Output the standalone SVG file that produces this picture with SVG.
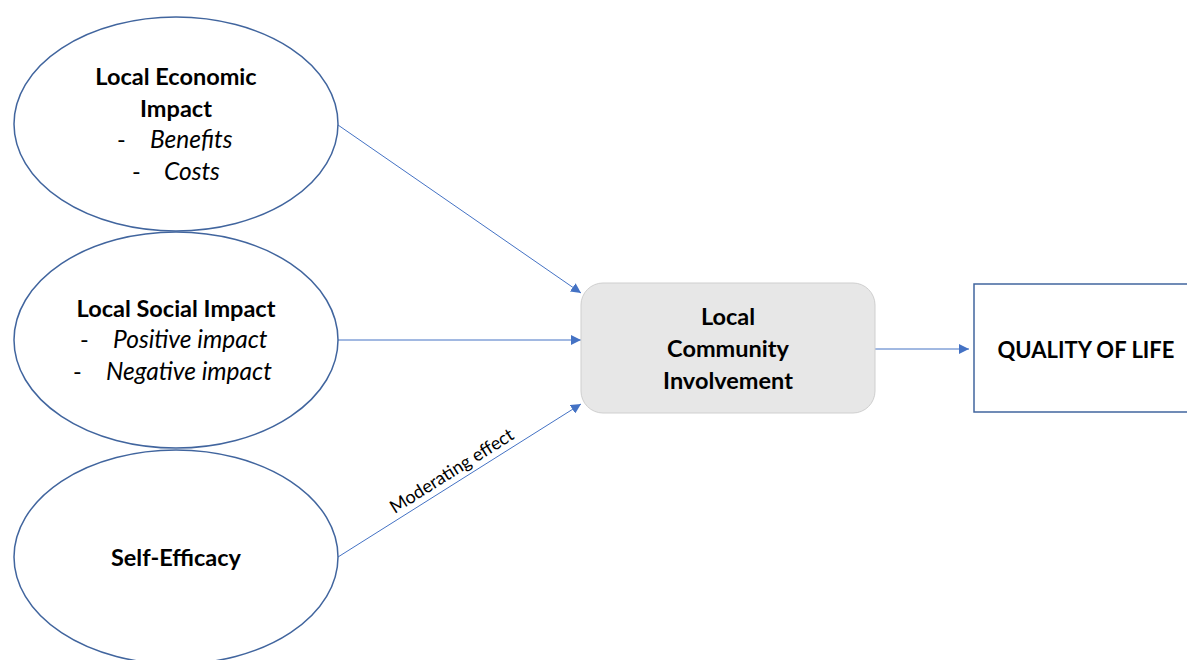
<svg xmlns="http://www.w3.org/2000/svg" width="1187" height="660" viewBox="0 0 1187 660">
<defs>
<style>
.ell{fill:#fff;stroke:#41659e;stroke-width:1.5}
.t{font-family:Lato,"Open Sans","Liberation Sans",sans-serif;font-size:23.5px;fill:#000}
.b{font-weight:bold}
.i{font-style:italic;font-size:24.5px}
.c{stroke:#4472c4;stroke-width:1;fill:none}
</style>
<marker id="ah" viewBox="0 0 10 10" refX="10" refY="5" markerWidth="10" markerHeight="10" markerUnits="userSpaceOnUse" orient="auto">
<path d="M0,0 L10,5 L0,10 z" fill="#4472c4"/>
</marker>
</defs>
<rect width="1187" height="660" fill="#fff"/>
<g id="connectors">
<line class="c" x1="338" y1="125" x2="581" y2="293" marker-end="url(#ah)"/>
<line class="c" x1="338" y1="340" x2="581" y2="340" marker-end="url(#ah)"/>
<line class="c" x1="338" y1="557" x2="581" y2="404" marker-end="url(#ah)"/>
<line class="c" x1="875" y1="349" x2="969" y2="349" marker-end="url(#ah)"/>
<text class="t" style="font-size:18px" transform="translate(455,476) rotate(-32.2)" text-anchor="middle">Moderating effect</text>
</g>
<g id="economic">
<ellipse class="ell" cx="176" cy="124" rx="162" ry="107"/>
<text class="t b" x="176" y="85" text-anchor="middle">Local Economic</text>
<text class="t b" x="176" y="117" text-anchor="middle">Impact</text>
<text class="t" x="117" y="148">-</text>
<text class="t i" x="150" y="148">Benefits</text>
<text class="t" x="132" y="180">-</text>
<text class="t i" x="164" y="180">Costs</text>
</g>
<g id="social">
<ellipse class="ell" cx="176" cy="340" rx="162" ry="108"/>
<text class="t b" x="176" y="317" text-anchor="middle">Local Social Impact</text>
<text class="t" x="80" y="348">-</text>
<text class="t i" x="113" y="348">Positive impact</text>
<text class="t" x="73" y="380">-</text>
<text class="t i" x="106" y="380">Negative impact</text>
</g>
<g id="selfefficacy">
<ellipse class="ell" cx="176" cy="557" rx="162" ry="107"/>
<text class="t b" x="176" y="566" text-anchor="middle">Self-Efficacy</text>
</g>
<g id="involvement">
<rect x="581" y="283" width="294" height="130" rx="22" fill="#e7e7e7" stroke="#cfcfcf" stroke-width="1"/>
<text class="t b" x="728" y="325" text-anchor="middle">Local</text>
<text class="t b" x="728" y="357" text-anchor="middle">Community</text>
<text class="t b" x="728" y="389" text-anchor="middle">Involvement</text>
</g>
<g id="quality">
<rect x="974" y="284" width="240" height="128" fill="#fff" stroke="#41659e" stroke-width="1.5"/>
<text class="t b" style="font-size:22px" x="1086" y="358" text-anchor="middle">QUALITY OF LIFE</text>
</g>
</svg>
